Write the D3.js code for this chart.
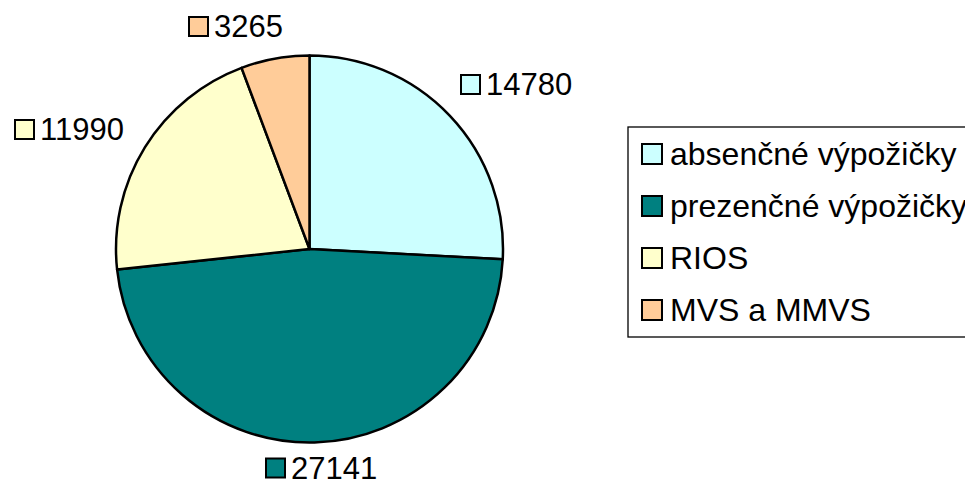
<!DOCTYPE html>
<html><head><meta charset="utf-8">
<script src="https://cdn.jsdelivr.net/npm/d3@7"></script>
<style>html,body{margin:0;padding:0;background:#fff;overflow:hidden}svg{display:block}</style>
</head><body>
<svg id="c" width="965" height="484"></svg>
<script>
const categories = ["absenčné výpožičky", "prezenčné výpožičky", "RIOS", "MVS a MMVS"];
const values = [14780, 27141, 11990, 3265];
const colors = ["#CCFFFF", "#008080", "#FFFFCC", "#FFCC99"];
// label anchor (marker left, text baseline) relative to pie centre
const labelOffsets = [[150.5, -154], [-44.5, 229.5], [-295.5, -109], [-121.5, -212]];

const W = 965, H = 484;
const cx = 309.5, cy = 249, R = 193.5;
const font = "'Liberation Sans', Arial, sans-serif";
const fs = 31, legendFs = 32;

const svg = d3.select("#c");
const pie = d3.pie().sort(null).value(d => d.v);
const arc = d3.arc().innerRadius(0).outerRadius(R);
const data = categories.map((c, i) => ({c, v: values[i], col: colors[i]}));
const arcs = pie(data);

const g = svg.append("g").attr("transform", `translate(${cx},${cy})`);
g.selectAll("path").data(arcs).enter().append("path")
  .attr("d", arc)
  .attr("fill", d => d.data.col)
  .attr("stroke", "#000")
  .attr("stroke-width", 2.5)
  .attr("stroke-linejoin", "round");

// data labels
const lab = g.selectAll("g.lab").data(arcs).enter().append("g")
  .attr("class", "lab")
  .attr("transform", (d, i) => `translate(${labelOffsets[i][0]},${labelOffsets[i][1]})`);
lab.append("rect")
  .attr("x", 1).attr("y", -20).attr("width", 19).attr("height", 19)
  .attr("fill", d => d.data.col).attr("stroke", "#000").attr("stroke-width", 2);
lab.append("text")
  .attr("x", 26).attr("y", 0)
  .attr("font-family", font).attr("font-size", fs).attr("fill", "#000")
  .text(d => d.data.v);

// legend
const lg = svg.append("g");
lg.append("rect")
  .attr("x", 628).attr("y", 127).attr("width", 400).attr("height", 210)
  .attr("fill", "#fff").attr("stroke", "#000").attr("stroke-width", 1.3);
const rowY = d3.scalePoint().domain(categories).range([165, 321]);
const items = lg.selectAll("g.item").data(data).enter().append("g")
  .attr("class", "item")
  .attr("transform", d => `translate(641,${rowY(d.c)})`);
items.append("rect")
  .attr("x", 1).attr("y", -21).attr("width", 20).attr("height", 20)
  .attr("fill", d => d.col).attr("stroke", "#000").attr("stroke-width", 2);
items.append("text")
  .attr("x", 29).attr("y", 0)
  .attr("font-family", font).attr("font-size", legendFs).attr("fill", "#000")
  .text(d => d.c);
</script>
</body></html>
